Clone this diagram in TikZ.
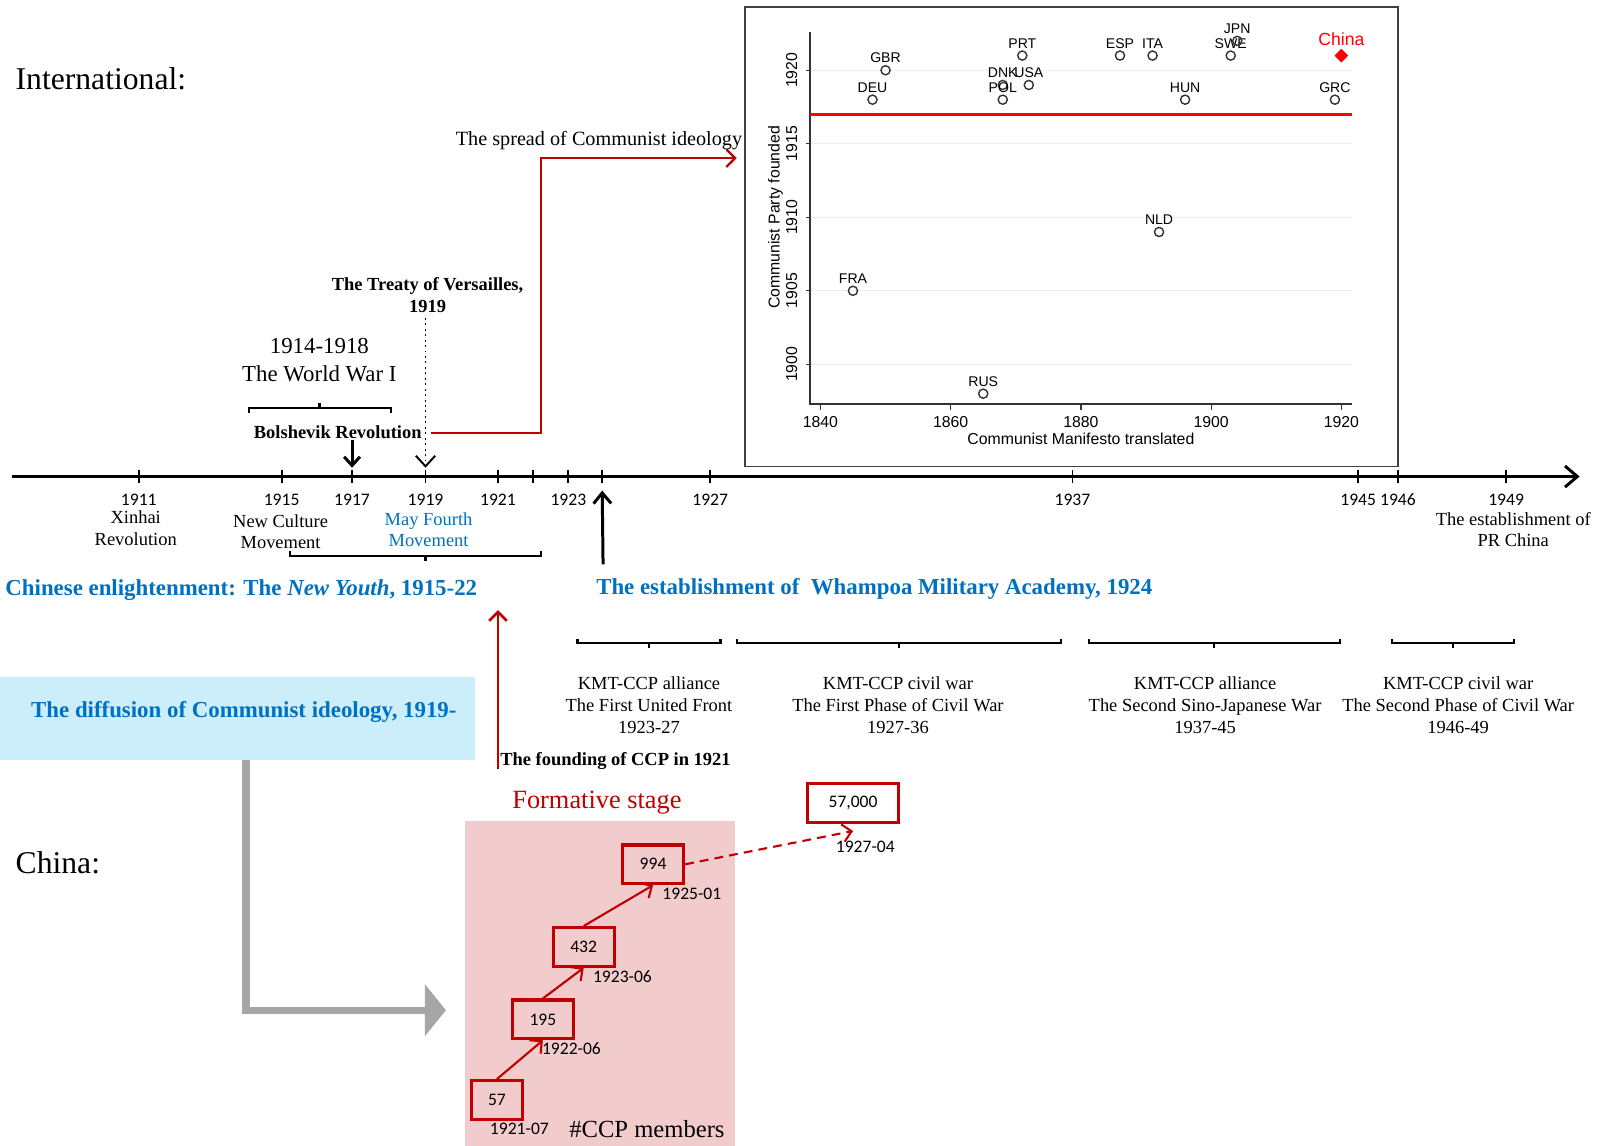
\documentclass[tikz,border=0pt]{standalone}
\usepackage{fontspec}
\setmainfont{Liberation Serif}
\newfontfamily\califont{Carlito}
\newfontfamily\arialfont{Liberation Sans}
\usepackage{tikz}
\usetikzlibrary{arrows.meta}
\usetikzlibrary{shapes.geometric}
\usetikzlibrary{positioning}
\definecolor{ccpblue}{RGB}{0,112,192}
\definecolor{ccpred}{RGB}{192,0,0}
\definecolor{pinkbg}{RGB}{242,203,205}
\definecolor{skybg}{RGB}{204,238,250}
\definecolor{arrowgray}{RGB}{166,166,166}
\definecolor{gridgray}{RGB}{232,240,242}
\newcommand{\fsz}[2]{\fontsize{#1}{#2}\selectfont}

\begin{document}
\begin{tikzpicture}[x=0.020408cm, y=-0.020408cm,
    yearlbl/.style={font=\califont\fsz{10}{12}, inner sep=0pt},
    desc/.style={font=\fsz{10.5}{12.4}, align=center, inner sep=0pt},
    bluehead/.style={font=\bfseries\fsz{13}{15}, text=ccpblue, inner sep=0pt},
    boldlbl/.style={font=\bfseries\fsz{10.5}{12.2}, inner sep=0pt},
    brk/.style={line width=1.3pt},
    memberbox/.style={draw=ccpred, line width=1.8pt, minimum height=22pt, inner sep=2pt, font=\califont\fsz{10}{12}},
    datelbl/.style={font=\califont\fsz{10}{12}, inner sep=0pt},
    redarr/.style={draw=ccpred, line width=1.2pt, -{Straight Barb[length=5pt,width=10pt]}},
    plotlbl/.style={font=\arialfont\fsz{8}{9.6}, inner sep=1pt}]
\useasboundingbox (0,0) rectangle (1568,1123);

% headings
\node[anchor=west, font=\fsz{18}{21}, inner sep=0pt] (intl) at (15,77) {International:};
\node[anchor=west, font=\fsz{18}{21}, inner sep=0pt] (china) at (15,845) {China:};

% the time line
\coordinate (tlstart) at (12,467);
\coordinate (tlend) at (1548,467);
\draw[line width=1.7pt, -{Straight Barb[length=7pt,width=12pt]}] (tlstart) -- (tlend);
\foreach \x/\yr in {136/1911,276/1915,345/1917,417/1919,488/1921,557/1923,696/1927,1051/1937,1331/1945,1370/1946,1476/1949}{
  \coordinate (t\yr) at (\x,467);
  \draw[line width=1pt] (\x,461) -- (\x,473);
  \node[yearlbl] (y\yr) at (\x,490) {\yr};
}
\foreach \x/\yr in {522/1922,590/1924}{
  \coordinate (t\yr) at (\x,467);
  \draw[line width=1pt] (\x,461) -- (\x,473);
}
\node[desc] (xinhai) at (133,518) {Xinhai\\Revolution};
\node[desc] (newcult) at (275,521) {New Culture\\Movement};
\node[desc, text=ccpblue] (mayfourth) at (420,519) {May Fourth\\Movement};
\node[desc] (prc) at (1483,519) {The establishment of\\PR China};

% world war and 1917-1919
\node[font=\fsz{13}{15.6}, align=center, inner sep=0pt] (ww1) at (313,353) {1914-1918\\The World War I};
\draw[brk] (244,405) -- (244,400) -- (383,400) -- (383,405) (313,400) -- (313,395);
\node[boldlbl] (bolshevik) at (331,424) {Bolshevik Revolution};
\draw[line width=1.7pt, -{Straight Barb[length=5pt,width=9pt]}, shorten >=5pt] (bolshevik.south -| t1917) -- (t1917);
\node[boldlbl, align=center] (treaty) at (419,289) {The Treaty of Versailles,\\1919};
\draw[dotted, line width=1.1pt, -{Straight Barb[length=6pt,width=11pt]}, shorten >=5pt] ([yshift=-3pt]treaty.south -| t1919) -- (t1919);

% spread of the ideology
\coordinate (spreadend) at (722,155);
\draw[redarr, line width=1.3pt] ([xshift=5pt]bolshevik.east) -- ++(108,0) |- (spreadend);
\node[font=\fsz{11.5}{13}, inner sep=0pt] (spread) at (587,138) {The spread of Communist ideology};

% scatter plot
\draw[black!75, line width=0.8pt] (730,7) rectangle (1370,457);
\begin{scope}[shift={(804,357)}, x=0.1302cm, y=0.2939cm]
  \foreach \g in {0,5,10,15,20}
    \draw[gridgray, line width=0.8pt] (-1.6,\g) -- (81.7,\g);
  \draw[black!80, line width=0.7pt] (-1.6,22.6) -- (-1.6,-2.7) -- (81.7,-2.7);
  \foreach \t/\lbl in {0/1840,20/1860,40/1880,60/1900,80/1920}{
    \draw[black!80, line width=0.7pt] (\t,-2.7) -- (\t,-3.1);
    \node[font=\arialfont\fsz{9}{11}, inner sep=0pt] (xt\lbl) at (\t,-3.96) {\lbl};
  }
  \foreach \t/\lbl in {0/1900,5/1905,10/1910,15/1915,20/1920}{
    \draw[black!80, line width=0.7pt] (-1.6,\t) -- (-2.2,\t);
    \node[font=\arialfont\fsz{9}{11}, rotate=90, inner sep=0pt] (yt\lbl) at (-4.4,\t) {\lbl};
  }
  \node[font=\arialfont\fsz{9}{11}, rotate=90, inner sep=0pt] (ytitle) at (-6.9,10) {Communist Party founded};
  \node[font=\arialfont\fsz{9}{11}, inner sep=0pt] (xtitle) at (40,-5.07) {Communist Manifesto translated};
  \draw[red, line width=1.7pt] (-1.6,17) -- (81.7,17);
  \foreach \nm/\mx/\my in {GBR/1850/1920,DEU/1848/1918,PRT/1871/1921,DNK/1868/1919,USA/1872/1919,POL/1868/1918,ESP/1886/1921,ITA/1891/1921,SWE/1903/1921,JPN/1904/1922,HUN/1896/1918,GRC/1919/1918,NLD/1892/1909,FRA/1845/1905,RUS/1865/1898}
    \node[circle, draw=black!80, line width=0.8pt, inner sep=0pt, minimum size=5.2pt, label={[plotlbl]above:\nm}] (\nm) at (\mx-1840,\my-1900) {};
  \node[diamond, fill=red, inner sep=0pt, minimum size=8pt, label={[plotlbl, text=red, font=\arialfont\fsz{10}{12}]above:China}] (CHN) at (80,21) {};
\end{scope}

% below the time line
\node[bluehead, anchor=west] (enlight) at (5,578) {Chinese enlightenment: The \textit{New Youth}, 1915-22};
\draw[brk] (284,540) -- (284,545) -- (530,545) -- (530,540) (417,545) -- (417,550);
\node[bluehead, anchor=west] (whampoa) at (584,577) {The establishment of\ \ Whampoa Military Academy, 1924};
\coordinate (whbase) at (591,553);
\draw[line width=1.7pt, -{Straight Barb[length=6pt,width=10pt]}, shorten >=8pt] (whbase) -- (t1924);

\foreach \a/\b/\m in {566/706/636,722/1040/881,1067/1313/1190,1364/1484/1424}
  \draw[brk] (\a,626) -- (\a,630) -- (\b,630) -- (\b,626) (\m,630) -- (\m,635);
\node[desc] (era1) at (636,691) {KMT-CCP alliance\\The First United Front\\1923-27};
\node[desc] (era2) at (880,691) {KMT-CCP civil war\\The First Phase of Civil War\\1927-36};
\node[desc] (era3) at (1181,691) {KMT-CCP alliance\\The Second Sino-Japanese War\\1937-45};
\node[desc] (era4) at (1429,691) {KMT-CCP civil war\\The Second Phase of Civil War\\1946-49};

% diffusion of the ideology in China
\node[fill=skybg, anchor=north west, inner sep=0pt, minimum width=270.2pt, minimum height=47.5pt] (diffbox) at (0,663) {};
\node[bluehead] (diffusion) at (239,698) {The diffusion of Communist ideology, 1919-};
\coordinate (graystart) at (241,745);
\coordinate (graytip) at (437,990);
\draw[arrowgray, line width=4.2pt, -{Triangle[width=29pt,length=12pt]}] (graystart) |- (graytip);

\node[boldlbl, anchor=west] (founding) at (490,746) {The founding of CCP in 1921};
\coordinate (foundbase) at (488,754);
\coordinate (foundtip) at (488,598);
\draw[redarr, line width=1.5pt] (foundbase) -- (foundtip);

% party members
\fill[pinkbg] (456,805) rectangle (720,1123);
\node[text=ccpred, font=\fsz{15}{18}, inner sep=0pt] (formative) at (585,787) {Formative stage};
\node[memberbox, minimum width=28.9pt] (m57) at (487,1078) {57};
\node[memberbox, minimum width=34.7pt] (m195) at (532,999) {195};
\node[memberbox, minimum width=34.7pt] (m432) at (572,928) {432};
\node[memberbox, minimum width=34.7pt] (m994) at (640,847) {994};
\node[memberbox, minimum width=51.5pt] (m57000) at (836,787) {57,000};
\node[datelbl] (d57) at (509,1106) {1921-07};
\node[datelbl] (d195) at (560,1028) {1922-06};
\node[datelbl] (d432) at (610,957) {1923-06};
\node[datelbl] (d994) at (678,876) {1925-01};
\node[datelbl] (d57000) at (848,830) {1927-04};
\draw[redarr] (m57.north) -- (m195.south);
\draw[redarr] (m195.north) -- (m432.south);
\draw[redarr] (m432.north) -- (m994.south);
\draw[redarr, dash pattern=on 5pt off 3.5pt] (m994.east) -- ([yshift=-4pt]m57000.south);
\node[font=\fsz{14}{17}, inner sep=0pt] (members) at (634,1106) {\#CCP members};
\end{tikzpicture}
\end{document}
